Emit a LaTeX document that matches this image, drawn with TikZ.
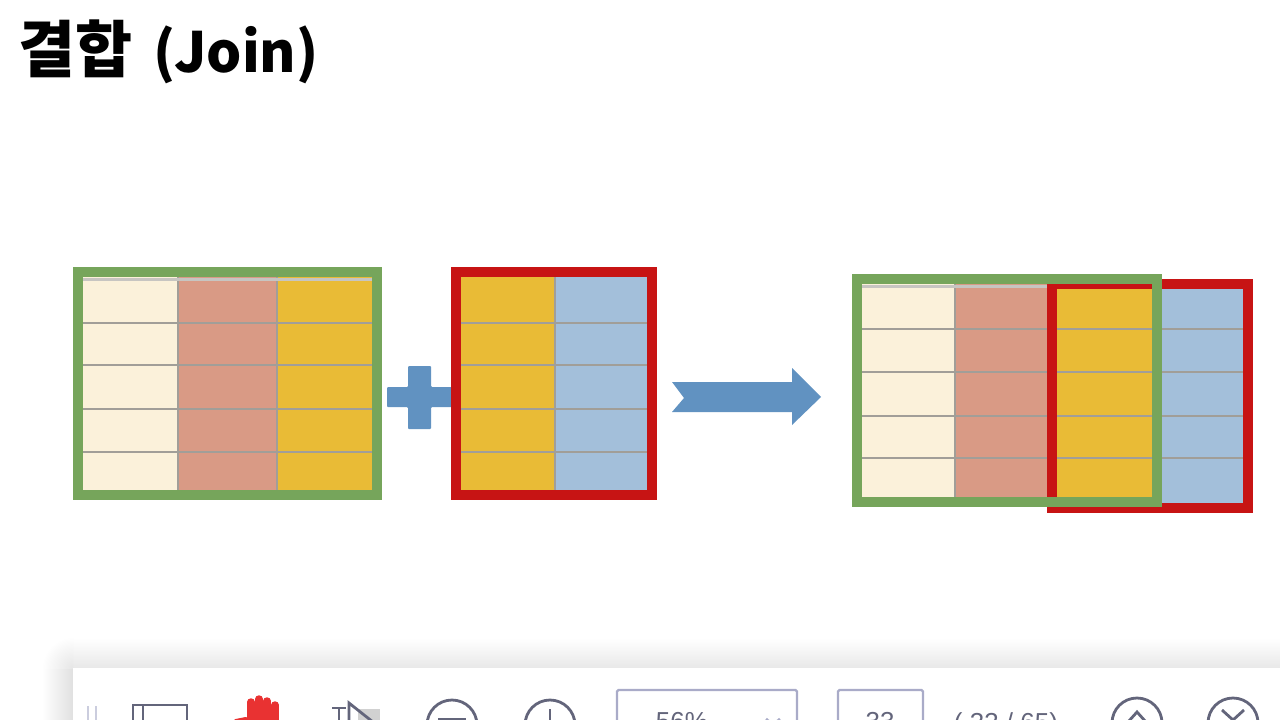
\documentclass[tikz,border=0pt]{standalone}
\usepackage{fontspec}
\newfontfamily\cjk{Noto Sans CJK KR}
\setsansfont{Liberation Sans}
\definecolor{framegreen}{HTML}{76A55B}
\definecolor{framered}{HTML}{C71414}
\definecolor{cellcream}{HTML}{FBF1DA}
\definecolor{cellsalmon}{HTML}{D99A85}
\definecolor{cellyellow}{HTML}{E9BB36}
\definecolor{cellblue}{HTML}{A3BFDA}
\definecolor{rowline}{HTML}{A19E98}
\definecolor{shapeblue}{HTML}{6192C1}
\definecolor{iconline}{HTML}{63657B}
\definecolor{boxline}{HTML}{A9ABC8}
\definecolor{handred}{HTML}{E93232}
\begin{document}
\begin{tikzpicture}[
                x=1pt, y=-1pt,
                framebox/.style={line width=10pt, draw, miter limit=10},
                rowrule/.style={rowline, line width=2.2pt},
                toprule/.style={rowline!60, line width=3pt},
                colrule/.style={rowline, line width=1.2pt},
                shapefill/.style={fill=shapeblue, draw=none},
                iconring/.style={iconline, line width=2.8pt},
                toolbox/.style={boxline, line width=2.4pt, rounded corners=1.5pt},
                tooltext/.style={font=\sffamily\fontsize{26}{26}\selectfont, text=iconline, inner sep=0pt}
                ]
                \clip (0,0) rectangle (1280,720);
                \fill[white] (0,0) rectangle (1280,720);
                % Title
                \node[anchor=west, inner sep=0pt, font=\cjk\bfseries] (title) at (18,52) {\fontsize{62}{62}\selectfont 결합\hspace{21pt}\fontsize{55.5}{56}\selectfont (Join)};
                % Left table
                \fill[cellcream] (83,277) rectangle (178,490);
                \fill[cellsalmon] (178,277) rectangle (277,490);
                \fill[cellyellow] (277,277) rectangle (372,490);
                \draw[colrule] (178,277) -- (178,490) (277,277) -- (277,490);
                \draw[toprule] (83,279) -- (372,279);
                \foreach \rowy in {323,365,409,452}
                    \draw[rowrule] (83,\rowy) -- (372,\rowy);
                \draw[framebox, framegreen] (78,272) rectangle (377,495);
                % Plus sign
                \fill[shapefill, rounded corners=1pt] (408,366) -- (431,366) -- (431,387) -- (453,387) -- (453,407) -- (431,407) -- (431,429) -- (408,429) -- (408,407) -- (387,407) -- (387,387) -- (408,387) -- cycle;
                % Right table
                \fill[cellyellow] (461,277) rectangle (555,490);
                \fill[cellblue] (555,277) rectangle (647,490);
                \draw[colrule] (555,277) -- (555,490);
                \foreach \rowy in {323,365,409,452}
                    \draw[rowrule] (461,\rowy) -- (647,\rowy);
                \draw[framebox, framered] (456,272) rectangle (652,495);
                % Arrow
                \fill[shapefill] (672,382) -- (792,382) -- (792,368) -- (821,397) -- (792,425) -- (792,412) -- (672,412) -- (684,398) -- cycle;
                % Joined table
                \fill[cellcream] (862,284) rectangle (955,497);
                \fill[cellsalmon] (955,284) rectangle (1052,497);
                \fill[cellyellow] (1052,286) rectangle (1152,503);
                \fill[cellblue] (1152,286) rectangle (1243,503);
                \draw[colrule] (955,284) -- (955,497);
                \draw[toprule] (862,286) -- (1047,286);
                \foreach \rowy in {329,372,416,458}
                    \draw[rowrule] (862,\rowy) -- (1243,\rowy);
                \draw[framebox, framered] (1052,284) rectangle (1248,508);
                \draw[framebox, framegreen] (857,279) rectangle (1157,502);
                % Toolbar shadow
                \shade[top color=white, bottom color=black!9] (73,638) rectangle (1280,668);
                \shade[left color=white, right color=black!12] (42,668) rectangle (73,720);
                \begin{scope}
                    \clip (42,638) rectangle (73,668);
                    \shade[inner color=black!10, outer color=white] (73,668) circle (31);
                \end{scope}
                \fill[white] (73,668) rectangle (1280,720);
                % Toolbar icons
                \draw[boxline!60, line width=2.5pt] (88,706) -- (88,725) (96,706) -- (96,725);
                \draw[iconring] (133,725) -- (133,705) -- (187,705) -- (187,725) (143,705) -- (143,725);
                \foreach \fingerx/\fingery in {251/702,259/699,267/701,275/705}
                    \draw[handred, line width=7.5pt, line cap=round] (\fingerx,\fingery) -- (\fingerx,725);
                \draw[handred, line width=6pt, line cap=round] (236,722) -- (246,720);
                \fill[black!18] (358,709) -- (380,709) -- (380,725) -- (358,725) -- cycle;
                \draw[iconring] (332,708) -- (346,708) (339,708) -- (339,725);
                \draw[iconring] (349,725) -- (349,703) -- (378,726);
                \node[draw, circle, iconring, minimum size=50pt, inner sep=0pt] (zoomout) at (452,725) {};
                \draw[iconring] (438,719) -- (466,719);
                \node[draw, circle, iconring, minimum size=50pt, inner sep=0pt] (zoomin) at (550,725) {};
                \draw[iconring] (536,723) -- (564,723) (550,709) -- (550,725);
                % Zoom and page boxes
                \draw[toolbox] (617,725) -- (617,690) -- (797,690) -- (797,725);
                \node[tooltext, anchor=north] (zoomtext) at (682,712) {56\%};
                \draw[iconring, boxline] (766,719) -- (773,725) -- (780,719);
                \draw[toolbox] (838,725) -- (838,690) -- (923,690) -- (923,725);
                \node[tooltext, anchor=north] (pagetext) at (880,712) {33};
                \node[tooltext, anchor=north] (pagecount) at (1006,712) {( 33 / 65)};
                \node[draw, circle, iconring, minimum size=50pt, inner sep=0pt] (pageup) at (1137,723) {};
                \draw[iconring] (1128,722) -- (1137,712) -- (1146,722);
                \node[draw, circle, iconring, minimum size=50pt, inner sep=0pt] (pagedown) at (1233,723) {};
                \draw[iconring] (1222,710) -- (1233,720) -- (1244,710);
            \end{tikzpicture}
\end{document}
